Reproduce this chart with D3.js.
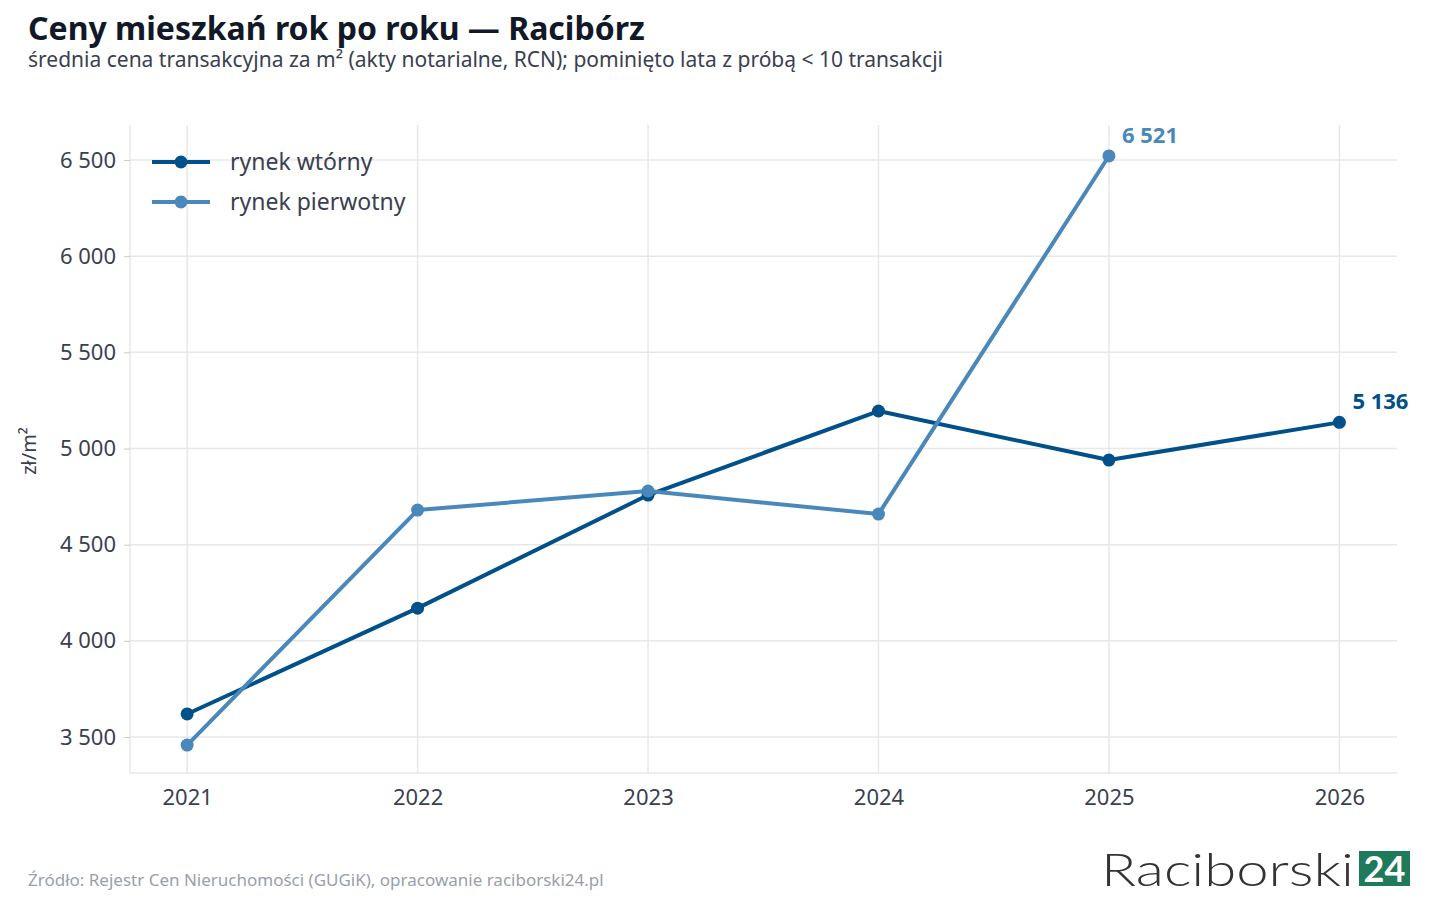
<!DOCTYPE html>
<html><head><meta charset="utf-8">
<script src="https://cdn.jsdelivr.net/npm/d3@7"></script>
<style>body{margin:0;background:#fff;font-family:"Noto Sans",sans-serif}</style>
</head><body><svg id="c" width="1440" height="900"></svg>
<script>
var years = [2021, 2022, 2023, 2024, 2025, 2026];
var wtorny = [3620, 4170, 4758, 5195, 4940, 5136];
var pierwotny = [3458, 4680, 4779, 4659, 6521, null];
var yTicks = [3500, 4000, 4500, 5000, 5500, 6000, 6500];

var svg = d3.select('#c');
// plot area
var pLeft = 130, pRight = 1397, pTop = 125, pBottom = 773;
var x = d3.scaleLinear().domain([2020.752, 2026.25]).range([pLeft, pRight]);
var y = d3.scaleLinear().domain([3313, 6682]).range([pBottom, pTop]);
var fmt = v => d3.format(',')(v).replace(/,/g, ' ');

// grid
svg.append('g').selectAll('line').data(yTicks).enter().append('line')
  .attr('x1', pLeft).attr('x2', pRight).attr('y1', d => y(d)).attr('y2', d => y(d))
  .attr('stroke', '#e8e8e8').attr('stroke-width', 1.5);
svg.append('g').selectAll('line').data(years).enter().append('line')
  .attr('y1', pTop).attr('y2', pBottom).attr('x1', d => x(d)).attr('x2', d => x(d))
  .attr('stroke', '#e8e8e8').attr('stroke-width', 1.5);
svg.append('line').attr('x1', pLeft).attr('x2', pLeft).attr('y1', pTop).attr('y2', pBottom).attr('stroke', '#ddd');
svg.append('line').attr('x1', pLeft).attr('x2', pRight).attr('y1', pBottom).attr('y2', pBottom).attr('stroke', '#ddd');

// axes
var xAxis = svg.append('g').attr('transform', `translate(0,${pBottom})`)
  .call(d3.axisBottom(x).tickValues(years).tickFormat(d3.format('d')).tickSize(0).tickPadding(16));
var yAxis = svg.append('g').attr('transform', `translate(${pLeft},0)`)
  .call(d3.axisLeft(y).tickValues(yTicks).tickFormat(fmt).tickSize(6).tickPadding(8));
[xAxis, yAxis].forEach(a => {
  a.select('.domain').remove();
  a.selectAll('text').attr('font-size', 22).attr('fill', '#3a4050').attr('font-family', 'Noto Sans');
  a.selectAll('line').attr('stroke', '#ccc');
});
svg.append('text').attr('transform', 'translate(36,451) rotate(-90)').attr('text-anchor', 'middle')
  .attr('font-size', 20).attr('fill', '#3a4050').text('zł/m²');

var series = [
  {name: 'rynek wtórny', vals: wtorny, color: '#005089'},
  {name: 'rynek pierwotny', vals: pierwotny, color: '#4a88bb'}
];
var line = d3.line().defined(d => d[1] != null).x(d => x(d[0])).y(d => y(d[1]));
series.forEach(s => {
  var pts = years.map((yr, i) => [yr, s.vals[i]]);
  svg.append('path').datum(pts).attr('d', line).attr('fill', 'none')
    .attr('stroke', s.color).attr('stroke-width', 4).attr('stroke-linejoin', 'round');
  svg.append('g').selectAll('circle').data(pts.filter(d => d[1] != null)).enter().append('circle')
    .attr('cx', d => x(d[0])).attr('cy', d => y(d[1])).attr('r', 6.5).attr('fill', s.color);
  var last = pts.filter(d => d[1] != null).pop();
  svg.append('text').attr('x', x(last[0]) + 13).attr('y', y(last[1]) - 13)
    .attr('font-size', 22).attr('font-weight', 'bold').attr('fill', s.color).text(fmt(last[1]));
});

// legend
series.forEach((s, i) => {
  var ly = 162 + i * 40;
  svg.append('line').attr('x1', 152).attr('x2', 210).attr('y1', ly).attr('y2', ly)
    .attr('stroke', s.color).attr('stroke-width', 4);
  svg.append('circle').attr('cx', 181).attr('cy', ly).attr('r', 6.5).attr('fill', s.color);
  svg.append('text').attr('x', 230).attr('y', ly + 8).attr('font-size', 23).attr('fill', '#3a4050').text(s.name);
});

// titles
svg.append('text').attr('x', 28).attr('y', 40).attr('font-size', 32).attr('font-weight', 'bold')
  .attr('fill', '#111827').text('Ceny mieszkań rok po roku — Racibórz');
svg.append('text').attr('x', 28).attr('y', 67).attr('font-size', 21).attr('fill', '#3a4050')
  .text('średnia cena transakcyjna za m² (akty notarialne, RCN); pominięto lata z próbą < 10 transakcji');
svg.append('text').attr('x', 28).attr('y', 886).attr('font-size', 17).attr('fill', '#9aa0aa')
  .text('Źródło: Rejestr Cen Nieruchomości (GUGiK), opracowanie raciborski24.pl');

// logo
svg.append('text').attr('x', 1101).attr('y', 886).attr('font-size', 46).attr('fill', '#333')
  .attr('font-family', 'Lato').attr('font-weight', 300)
  .attr('textLength', 253).attr('lengthAdjust', 'spacingAndGlyphs').text('Raciborski');
svg.append('rect').attr('x', 1359).attr('y', 851).attr('width', 51).attr('height', 35).attr('fill', '#1f7a5c');
svg.append('text').attr('x', 1384.5).attr('y', 882).attr('text-anchor', 'middle').attr('font-size', 36)
  .attr('font-weight', 'bold').attr('fill', '#fff').attr('font-family', 'Lato').text('24');
</script></body></html>
